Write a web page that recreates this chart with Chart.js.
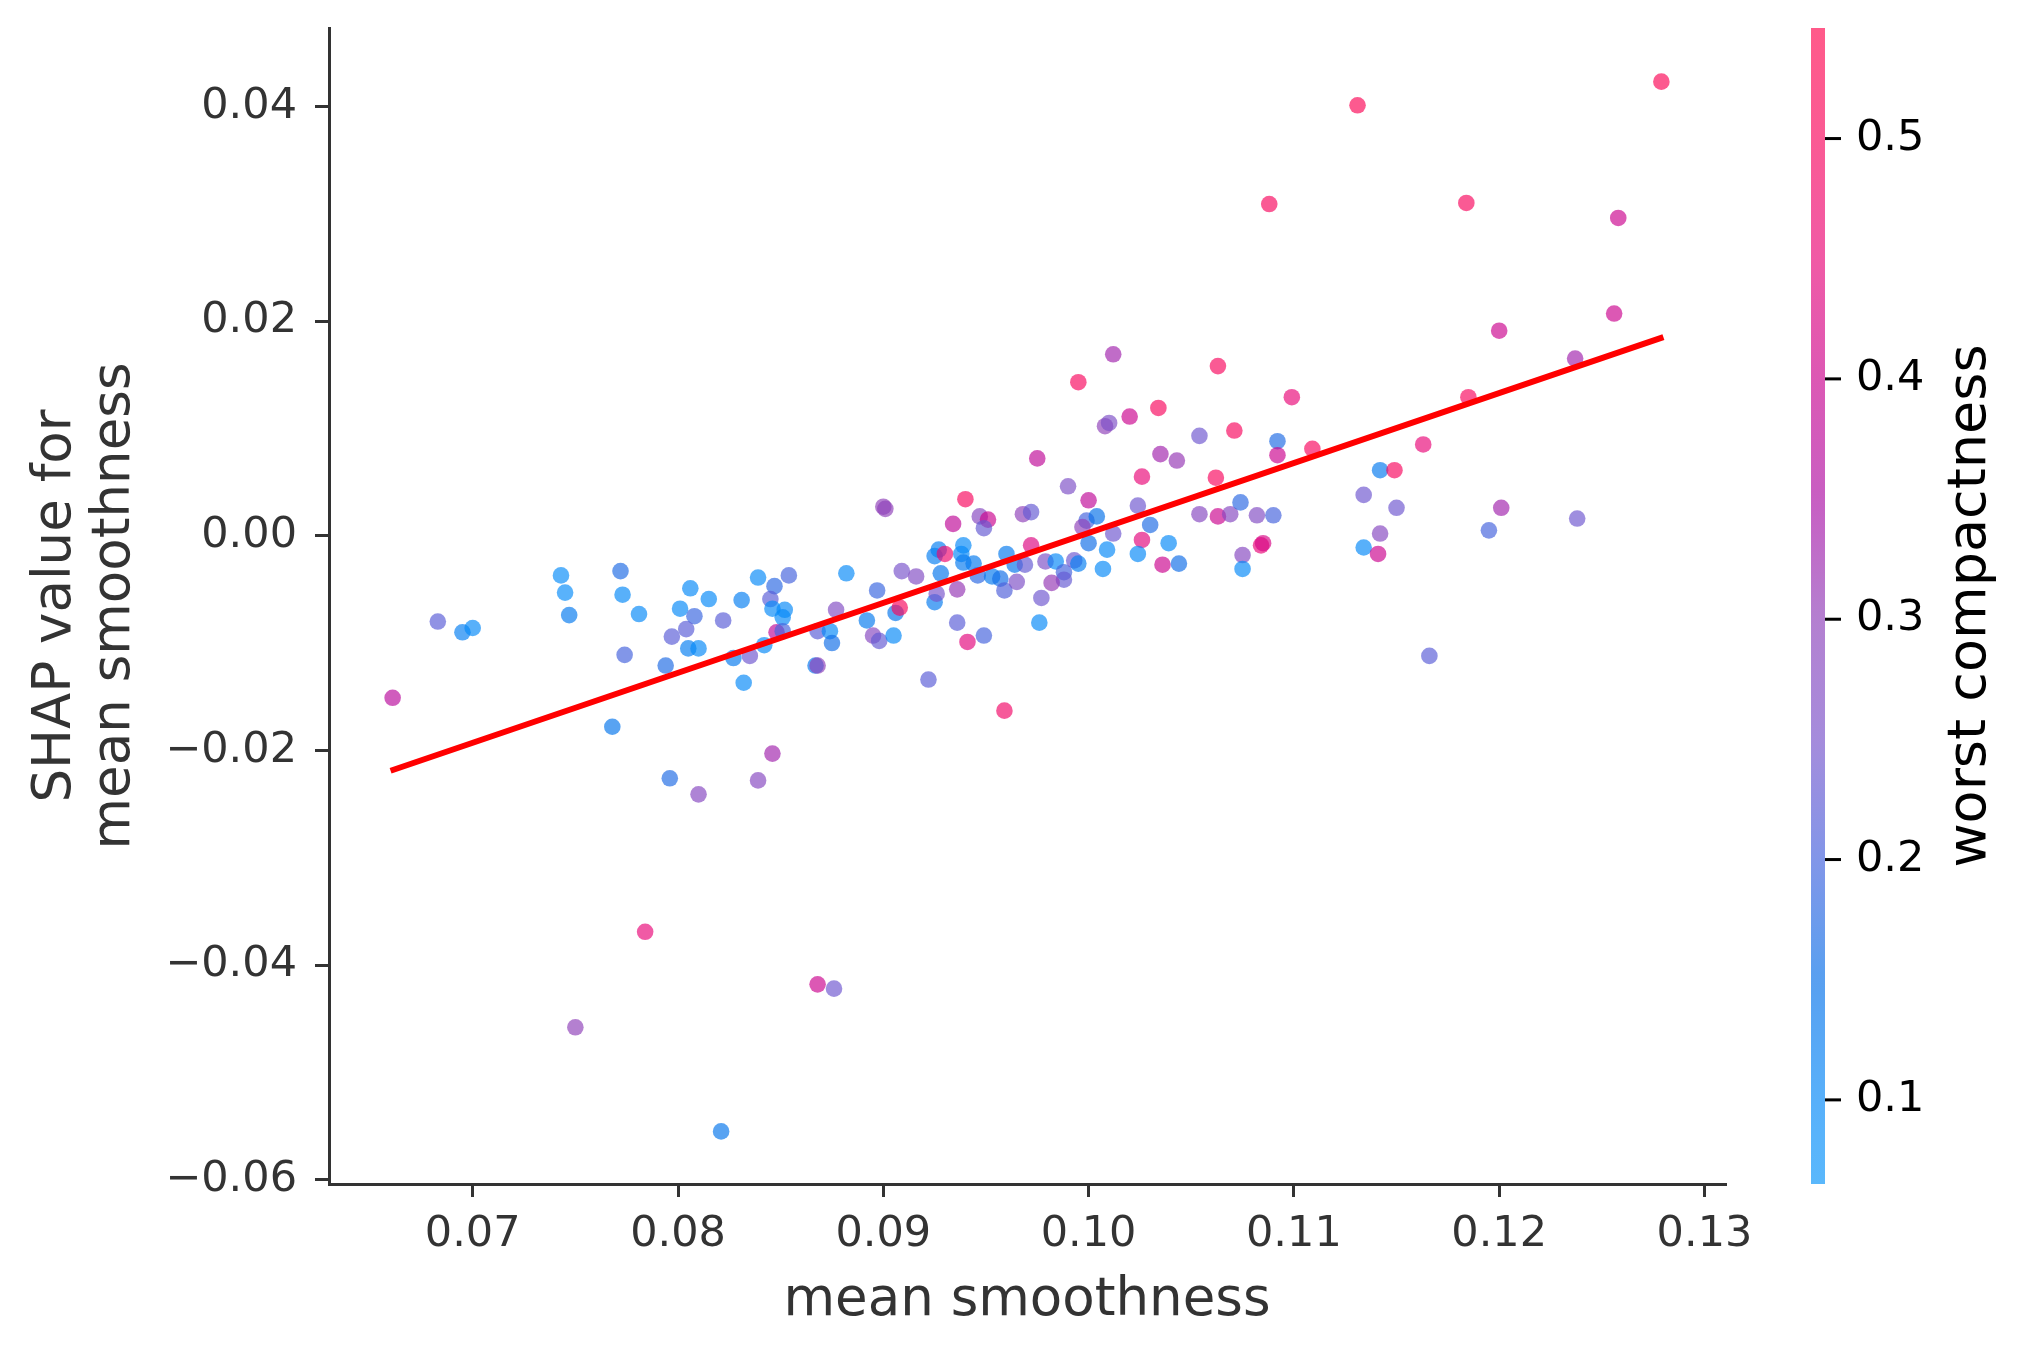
<!DOCTYPE html>
<html>
<head>
<meta charset="utf-8">
<script src="https://cdn.jsdelivr.net/npm/chart.js@4.4.1/dist/chart.umd.min.js"></script>
<style>
  html, body { margin: 0; padding: 0; background: #fff; }
  #wrap { width: 2026px; height: 1357px; }
</style>
</head>
<body>
<div id="wrap"><canvas id="chart" width="2026" height="1357"></canvas></div>
<script>
// mean smoothness (x), SHAP value (y), worst compactness (colour), one entry per sample
const smoothness = [
  0.0743, 0.0745, 0.0747, 0.0772, 0.0773, 0.0781, 0.0806, 0.0815, 0.0801, 0.0808,
  0.0804, 0.0797, 0.0805, 0.0810, 0.0774, 0.0794, 0.0683, 0.0695, 0.0700, 0.0661,
  0.0768, 0.0822, 0.0831, 0.0839, 0.0847, 0.0854, 0.0845, 0.0846, 0.0852, 0.0851,
  0.0848, 0.0851, 0.0842, 0.0835, 0.0827, 0.0832, 0.0867, 0.0868, 0.0868, 0.0874,
  0.0875, 0.0877, 0.0882, 0.0892, 0.0897, 0.0900, 0.0901, 0.0895, 0.0898, 0.0905,
  0.0906, 0.0908, 0.0909, 0.0916, 0.0922, 0.0925, 0.0926, 0.0928, 0.0925, 0.0927,
  0.0930, 0.0934, 0.0940, 0.0939, 0.0938, 0.0939, 0.0944, 0.0946, 0.0936, 0.0936,
  0.0941, 0.0949, 0.0959, 0.0947, 0.0951, 0.0949, 0.0953, 0.0957, 0.0959, 0.0960,
  0.0965, 0.0964, 0.0969, 0.0968, 0.0972, 0.0972, 0.0975, 0.0995, 0.0979, 0.0984,
  0.0988, 0.0988, 0.0982, 0.0977, 0.0976, 0.0993, 0.0995, 0.0990, 0.1000, 0.0999,
  0.0997, 0.1004, 0.1000, 0.1012, 0.1009, 0.1007, 0.1008, 0.1010, 0.1020, 0.1034,
  0.1024, 0.1026, 0.1030, 0.1026, 0.1024, 0.1035, 0.1043, 0.1039, 0.1036, 0.1044,
  0.1054, 0.1062, 0.1054, 0.1063, 0.1069, 0.1071, 0.1074, 0.1082, 0.1090, 0.1084,
  0.1085, 0.1075, 0.1075, 0.1092, 0.1092, 0.1099, 0.1109, 0.1134, 0.1134, 0.1185,
  0.1163, 0.1142, 0.1149, 0.1150, 0.1142, 0.1141, 0.1201, 0.1195, 0.1238, 0.1166,
  0.1131, 0.1088, 0.1012, 0.1063, 0.1279, 0.1184, 0.1258, 0.1256, 0.1200, 0.1237,
  0.0796, 0.0810, 0.0839, 0.0846, 0.0784, 0.0868, 0.0876, 0.0750, 0.0821
];

const shapValues = [
  -0.0037, -0.0053, -0.0074, -0.0033, -0.0055, -0.0073, -0.0049, -0.0059, -0.0068, -0.0075,
  -0.0087, -0.0094, -0.0105, -0.0105, -0.0111, -0.0121, -0.0080, -0.0090, -0.0086, -0.0151,
  -0.0178, -0.0079, -0.0060, -0.0039, -0.0047, -0.0037, -0.0059, -0.0068, -0.0069, -0.0076,
  -0.0090, -0.0089, -0.0102, -0.0112, -0.0114, -0.0137, -0.0121, -0.0121, -0.0089, -0.0089,
  -0.0100, -0.0069, -0.0035, -0.0079, -0.0051, 0.0027, 0.0025, -0.0093, -0.0098, -0.0093,
  -0.0072, -0.0067, -0.0033, -0.0038, -0.0134, -0.0062, -0.0054, -0.0035, -0.0019, -0.0013,
  -0.0017, 0.0011, 0.0034, -0.0009, -0.0017, -0.0025, -0.0026, -0.0037, -0.0050, -0.0081,
  -0.0099, -0.0093, -0.0163, 0.0018, 0.0015, 0.0007, -0.0038, -0.0040, -0.0051, -0.0017,
  -0.0043, -0.0027, -0.0027, 0.0020, 0.0022, -0.0009, 0.0072, 0.0143, -0.0024, -0.0024,
  -0.0034, -0.0041, -0.0044, -0.0058, -0.0081, -0.0023, -0.0026, 0.0046, 0.0033, 0.0014,
  0.0008, 0.0018, -0.0007, 0.0002, -0.0013, -0.0031, 0.0102, 0.0105, 0.0111, 0.0119,
  0.0028, 0.0055, 0.0010, -0.0004, -0.0017, 0.0076, 0.0070, -0.0007, -0.0027, -0.0026,
  0.0093, 0.0054, 0.0020, 0.0018, 0.0020, 0.0098, 0.0031, 0.0019, 0.0019, -0.0009,
  -0.0007, -0.0018, -0.0031, 0.0088, 0.0075, 0.0129, 0.0081, 0.0038, -0.0011, 0.0129,
  0.0085, 0.0061, 0.0061, 0.0026, 0.0002, -0.0017, 0.0026, 0.0005, 0.0016, -0.0112,
  0.0401, 0.0309, 0.0169, 0.0158, 0.0423, 0.0310, 0.0296, 0.0207, 0.0191, 0.0165,
  -0.0226, -0.0241, -0.0228, -0.0203, -0.0369, -0.0418, -0.0422, -0.0458, -0.0555
];

const worstCompactness = [
  0.09, 0.09, 0.13, 0.17, 0.10, 0.10, 0.10, 0.10, 0.10, 0.19,
  0.22, 0.22, 0.12, 0.10, 0.20, 0.17, 0.22, 0.12, 0.10, 0.37,
  0.14, 0.22, 0.12, 0.10, 0.18, 0.20, 0.22, 0.10, 0.10, 0.10,
  0.38, 0.20, 0.10, 0.24, 0.13, 0.10, 0.13, 0.30, 0.22, 0.10,
  0.16, 0.27, 0.10, 0.13, 0.19, 0.30, 0.30, 0.28, 0.23, 0.10,
  0.14, 0.50, 0.25, 0.27, 0.22, 0.13, 0.25, 0.14, 0.12, 0.12,
  0.47, 0.38, 0.50, 0.10, 0.10, 0.13, 0.13, 0.18, 0.31, 0.22,
  0.44, 0.20, 0.48, 0.28, 0.40, 0.23, 0.13, 0.16, 0.21, 0.13,
  0.26, 0.14, 0.23, 0.30, 0.23, 0.43, 0.38, 0.50, 0.26, 0.10,
  0.20, 0.23, 0.31, 0.24, 0.10, 0.24, 0.12, 0.26, 0.38, 0.20,
  0.30, 0.15, 0.16, 0.24, 0.10, 0.10, 0.30, 0.26, 0.40, 0.50,
  0.24, 0.45, 0.17, 0.44, 0.10, 0.33, 0.31, 0.10, 0.40, 0.16,
  0.24, 0.50, 0.28, 0.40, 0.28, 0.50, 0.18, 0.27, 0.20, 0.45,
  0.42, 0.28, 0.10, 0.17, 0.40, 0.45, 0.50, 0.24, 0.10, 0.50,
  0.45, 0.13, 0.50, 0.24, 0.28, 0.40, 0.33, 0.20, 0.24, 0.22,
  0.52, 0.50, 0.33, 0.50, 0.52, 0.50, 0.40, 0.40, 0.40, 0.33,
  0.17, 0.28, 0.28, 0.33, 0.45, 0.40, 0.24, 0.30, 0.14
];

// red trend line end points
const fitX = [0.0660, 0.1280];
const fitY = [-0.0219, 0.0185];

const xTicks = [0.07, 0.08, 0.09, 0.10, 0.11, 0.12, 0.13];
const yTicks = [-0.06, -0.04, -0.02, 0.00, 0.02, 0.04];
const colorbarTicks = [0.1, 0.2, 0.3, 0.4, 0.5];
const colorbarMin = 0.065;
const colorbarMax = 0.546;

// blue -> purple -> red colour map (opaque), drawn with alpha
const cmapValues = [0.065, 0.10, 0.15, 0.20, 0.25, 0.30, 0.35, 0.40, 0.45, 0.50, 0.546];
const cmapColors = [
  [9, 149, 250], [6, 137, 248], [6, 113, 233], [68, 98, 221], [121, 83, 203],
  [143, 65, 185], [173, 16, 165], [203, 6, 143], [233, 9, 121], [248, 9, 95], [255, 9, 80]
];
const pointAlpha = 0.67;

function compactnessColor(v, alpha) {
  let i = 0;
  while (i < cmapValues.length - 2 && v > cmapValues[i + 1]) i++;
  let t = (v - cmapValues[i]) / (cmapValues[i + 1] - cmapValues[i]);
  t = Math.max(0, Math.min(1, t));
  const a = cmapColors[i], b = cmapColors[i + 1];
  const c = [0, 1, 2].map(k => Math.round(a[k] + (b[k] - a[k]) * t));
  return 'rgba(' + c[0] + ',' + c[1] + ',' + c[2] + ',' + alpha + ')';
}

function minusLabel(v, digits) {
  const s = Math.abs(v).toFixed(digits);
  return v < -1e-9 ? '\u2212' + s : s;
}

const colorbarPlugin = {
  id: 'colorbar',
  afterDraw(chart) {
    const ctx = chart.ctx;
    const area = chart.chartArea;
    const x0 = area.right + 86;
    const w = 14;
    const top = area.top, bottom = area.bottom;
    ctx.save();
    const grad = ctx.createLinearGradient(0, bottom, 0, top);
    for (let i = 0; i <= 60; i++) {
      const v = colorbarMin + (colorbarMax - colorbarMin) * i / 60;
      grad.addColorStop(i / 60, compactnessColor(v, pointAlpha));
    }
    ctx.fillStyle = grad;
    ctx.fillRect(x0, top, w, bottom - top);

    ctx.strokeStyle = '#000';
    ctx.lineWidth = 3;
    ctx.fillStyle = '#000';
    ctx.font = '43px "DejaVu Sans"';
    ctx.textAlign = 'left';
    ctx.textBaseline = 'middle';
    for (const v of colorbarTicks) {
      const y = bottom - (v - colorbarMin) / (colorbarMax - colorbarMin) * (bottom - top);
      ctx.beginPath();
      ctx.moveTo(x0 + w, y);
      ctx.lineTo(x0 + w + 16, y);
      ctx.stroke();
      ctx.fillText(v.toFixed(1), x0 + w + 31, y);
    }

    ctx.translate(x0 + 174, (top + bottom) / 2);
    ctx.rotate(-Math.PI / 2);
    ctx.font = '54px "DejaVu Sans"';
    ctx.textAlign = 'center';
    ctx.textBaseline = 'alphabetic';
    ctx.fillText('worst compactness', 0, 0);
    ctx.restore();
  }
};

Chart.defaults.font.family = '"DejaVu Sans", sans-serif';

const points = smoothness.map((x, i) => ({ x: x, y: shapValues[i] }));
const fitLine = fitX.map((x, i) => ({ x: x, y: fitY[i] }));

new Chart(document.getElementById('chart'), {
  type: 'scatter',
  data: {
    datasets: [
      {
        type: 'line',
        data: fitLine,
        borderColor: '#ff0000',
        borderWidth: 6,
        pointRadius: 0,
        fill: false,
        order: 0
      },
      {
        data: points,
        pointRadius: 8.3,
        pointHoverRadius: 8.3,
        borderWidth: 0,
        backgroundColor: ctx => compactnessColor(worstCompactness[ctx.dataIndex], pointAlpha),
        order: 1
      }
    ]
  },
  options: {
    responsive: false,
    devicePixelRatio: 1,
    animation: false,
    layout: { padding: { left: 0, right: 301, top: 28, bottom: 0 } },
    plugins: {
      legend: { display: false },
      tooltip: { enabled: false }
    },
    scales: {
      x: {
        type: 'linear',
        position: 'bottom',
        min: 0.063,
        max: 0.131,
        afterBuildTicks: scale => { scale.ticks = xTicks.map(v => ({ value: v })); },
        afterFit: scale => { scale.height = 173; },
        ticks: {
          color: '#333333',
          font: { size: 43 },
          padding: 12,
          callback: v => v.toFixed(2)
        },
        grid: {
          display: true,
          drawOnChartArea: false,
          drawTicks: true,
          tickLength: 13,
          color: '#333333',
          lineWidth: 3
        },
        border: { display: true, color: '#333333', width: 3 },
        title: {
          display: true,
          text: 'mean smoothness',
          color: '#333333',
          font: { size: 53 },
          padding: { top: 0, bottom: 24 }
        }
      },
      y: {
        type: 'linear',
        position: 'left',
        min: -0.0604,
        max: 0.0473,
        afterBuildTicks: scale => { scale.ticks = yTicks.map(v => ({ value: v })); },
        afterFit: scale => {
          scale.width = 329;
          scale.paddingTop = 0;
          scale.paddingBottom = 0;
        },
        ticks: {
          color: '#333333',
          font: { size: 43 },
          padding: 18,
          callback: v => minusLabel(v, 2)
        },
        grid: {
          display: true,
          drawOnChartArea: false,
          drawTicks: true,
          tickLength: 14,
          color: '#333333',
          lineWidth: 3
        },
        border: { display: true, color: '#333333', width: 3 },
        title: {
          display: true,
          text: ['SHAP value for', 'mean smoothness'],
          color: '#333333',
          font: { size: 53, lineHeight: 59 / 53 },
          padding: { top: 27, bottom: 0 }
        }
      }
    }
  },
  plugins: [colorbarPlugin]
});
</script>
</body>
</html>
